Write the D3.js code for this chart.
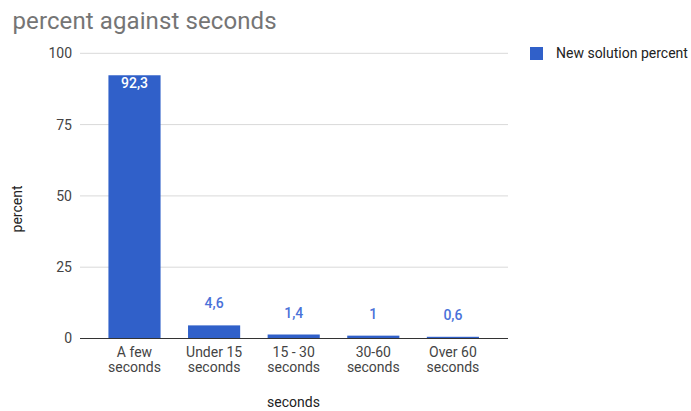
<!DOCTYPE html>
<html>
<head>
<meta charset="utf-8">
<script src="https://cdn.jsdelivr.net/npm/d3@7"></script>
<style>
  html, body { margin: 0; padding: 0; background: #fff; }
  svg { display: block; font-family: Roboto, Arial, sans-serif; }
</style>
</head>
<body>
<svg id="chart" width="691" height="411"></svg>
<script>
// Response time buckets and the share of answers in each
const categories = [["A few", "seconds"], ["Under 15", "seconds"], ["15 - 30", "seconds"], ["30-60", "seconds"], ["Over 60", "seconds"]];
const percentValues = [92.3, 4.6, 1.4, 1, 0.6];
const valueLabels = ["92,3", "4,6", "1,4", "1", "0,6"];
const yTicks = [0, 25, 50, 75, 100];
const seriesName = "New solution percent";

const svg = d3.select("#chart");
const barColor = "#3060c9";
const fontSize = 14;

const plot = { left: 80, right: 508, top: 53.3, bottom: 338.5 };

const x = d3.scaleBand()
  .domain(d3.range(categories.length))
  .range([94.7, 492.7])
  .paddingInner(0.345)
  .paddingOuter(0.1725);

const y = d3.scaleLinear().domain([0, 100]).range([plot.bottom, plot.top]);

// Title
svg.append("text")
  .attr("x", 12.5).attr("y", 29)
  .attr("font-size", 24).attr("fill", "#757575")
  .attr("letter-spacing", 0.1)
  .text("percent against seconds");

// Gridlines and y tick labels
const yAxis = d3.axisLeft(y).tickValues(yTicks).tickSize(0).tickPadding(8);
const yg = svg.append("g").attr("transform", `translate(${plot.left},0)`).call(yAxis);
yg.select(".domain").remove();
yg.selectAll("text").attr("font-size", fontSize).attr("fill", "#444").attr("font-family", "Roboto, Arial, sans-serif");

svg.append("g").selectAll("line")
  .data(yTicks.filter(d => d !== 0))
  .join("line")
  .attr("x1", plot.left).attr("x2", plot.right)
  .attr("y1", d => y(d)).attr("y2", d => y(d))
  .attr("stroke", "#d9d9d9").attr("stroke-width", 1);

// Bars
svg.append("g").selectAll("rect")
  .data(percentValues)
  .join("rect")
  .attr("x", (d, i) => x(i))
  .attr("y", d => y(d))
  .attr("width", x.bandwidth())
  .attr("height", d => y(0) - y(d))
  .attr("fill", barColor);

// Baseline
svg.append("line")
  .attr("x1", plot.left).attr("x2", plot.right)
  .attr("y1", y(0)).attr("y2", y(0))
  .attr("stroke", "#333").attr("stroke-width", 1.2);

// Value annotations: inside the bar when it is tall enough, otherwise above it
svg.append("g").selectAll("text")
  .data(percentValues)
  .join("text")
  .attr("x", (d, i) => x(i) + x.bandwidth() / 2)
  .attr("y", d => (y(0) - y(d) > 30) ? y(d) + 13 : y(d) - 17)
  .attr("text-anchor", "middle")
  .attr("font-size", fontSize)
  .attr("font-weight", 500)
  .attr("fill", d => (y(0) - y(d) > 30) ? "#fff" : "#4a72d9")
  .text((d, i) => valueLabels[i]);

// Category labels (two lines each)
const xg = svg.append("g");
categories.forEach((lines, i) => {
  const t = xg.append("text")
    .attr("x", x(i) + x.bandwidth() / 2)
    .attr("y", 357)
    .attr("text-anchor", "middle")
    .attr("font-size", fontSize)
    .attr("fill", "#444");
  lines.forEach((s, j) => {
    t.append("tspan")
      .attr("x", x(i) + x.bandwidth() / 2)
      .attr("dy", j === 0 ? 0 : 14.5)
      .text(s);
  });
});

// Axis titles
svg.append("text")
  .attr("x", 293.5).attr("y", 407)
  .attr("text-anchor", "middle")
  .attr("font-size", fontSize).attr("fill", "#222")
  .text("seconds");

svg.append("text")
  .attr("transform", "translate(22,209) rotate(-90)")
  .attr("text-anchor", "middle")
  .attr("font-size", fontSize).attr("fill", "#222")
  .text("percent");

// Legend
svg.append("rect")
  .attr("x", 530).attr("y", 47).attr("width", 13).attr("height", 13)
  .attr("fill", barColor);
svg.append("text")
  .attr("x", 556).attr("y", 58.3)
  .attr("font-size", fontSize).attr("fill", "#222")
  .text(seriesName);
</script>
</body>
</html>
